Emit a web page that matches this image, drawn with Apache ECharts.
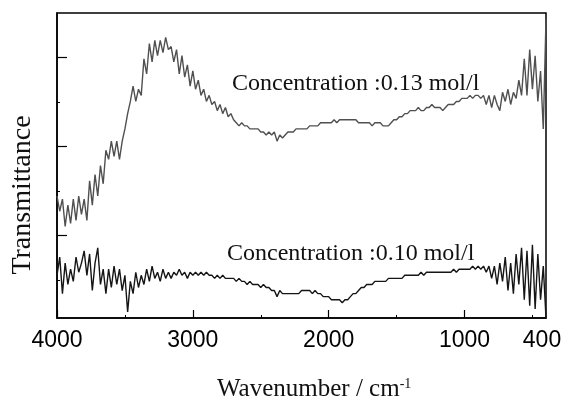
<!DOCTYPE html>
<html>
<head>
<meta charset="utf-8">
<script src="https://cdn.jsdelivr.net/npm/echarts@6/dist/echarts.min.js"></script>
<style>html,body{margin:0;padding:0;background:#fff}#c{width:562px;height:401px}</style>
</head>
<body>
<div id="c"></div>
<script>
// wavenumber grid (cm^-1), shared by both spectra
const wavenumbers = [
4000,3980,3960,3940,3920,3900,3880,3860,3840,3820,
3800,3780,3760,3740,3720,3700,3680,3660,3640,3620,
3600,3580,3560,3540,3520,3500,3480,3460,3440,3420,
3400,3380,3360,3340,3320,3300,3280,3260,3240,3220,
3200,3180,3160,3140,3120,3100,3080,3060,3040,3020,
3000,2980,2960,2940,2920,2900,2880,2860,2840,2820,
2800,2780,2760,2740,2720,2700,2680,2660,2640,2620,
2600,2580,2560,2540,2520,2500,2480,2460,2440,2420,
2400,2380,2360,2340,2320,2300,2280,2260,2240,2220,
2200,2180,2160,2140,2120,2100,2080,2060,2040,2020,
2000,1980,1960,1940,1920,1900,1880,1860,1840,1820,
1800,1780,1760,1740,1720,1700,1680,1660,1640,1620,
1600,1580,1560,1540,1520,1500,1480,1460,1440,1420,
1400,1380,1360,1340,1320,1300,1280,1260,1240,1220,
1200,1180,1160,1140,1120,1100,1080,1060,1040,1020,
1000,980,960,940,920,900,880,860,840,820,
800,780,760,740,720,700,680,660,640,620,
600,580,560,540,520,500,480,460,440,420,
400];

// Transmittance (arbitrary units), 0.13 mol/l
const trans013 = [
40,35,39,30,37,31,39,32,40,34,
39,32,45,37,47,40,50,44,55,52,
58,53,58,52,58,62,67,71,76,71,
75,73,85,80,90,84,91,86,91,87,
92,88,89,84,88,80,86,79,83,76,
81,75,78,73,75,71,73,70,71,68,
70,67,69,66,67,65,64,63,64,63,
63,62,62,62,62,61,61,60,61,60,
61,58,60,59,60,61,61,61,62,62,
62,62,62,63,63,63,63,64,64,64,
64,64,65,64,65,65,65,65,65,65,
65,64,64,64,64,64,63,64,64,64,
63,63,63,64,65,65,66,66,67,67,
68,68,68,69,68,68,69,69,70,69,
69,69,68,69,70,70,70,71,71,72,
72,72,73,72,73,73,72,73,70,73,
69,73,70,68,74,71,75,70,74,72,
78,73,85,73,88,75,86,71,81,62,
98];

// Transmittance (arbitrary units), 0.10 mol/l
const trans010 = [
14,20,8,18,11,16,12,20,15,18,
22,14,21,9,18,23,11,16,8,16,
10,17,11,16,9,14,2,12,8,15,
10,14,11,16,12,17,13,15,12,16,
13,15,13,15,14,16,14,15,13,15,
14,15,14,15,14,15,14,14,13,14,
13,14,13,13,13,13,12,13,12,12,
11,12,11,11,11,10,11,10,10,9,
9,7,9,8,8,8,8,8,8,8,
9,9,9,9,8,9,8,8,7,7,
7,6,6,6,6,5,6,6,7,8,
8,9,10,10,11,11,11,12,12,12,
12,12,13,13,13,13,13,13,14,14,
14,14,14,14,15,14,15,15,15,15,
15,15,15,15,15,15,16,15,16,16,
16,16,16,17,16,17,16,17,15,17,
13,17,11,18,12,20,9,18,8,21,
11,23,6,22,4,24,3,21,6,17,
0];

const xMajorTicks = [4000, 3000, 2000, 1000];
const xMinorTicks = [3500, 2500, 1500, 500];
const xTickLabels = [4000, 3000, 2000, 1000, 400];
const yMajorTicks = [27.2, 56.4, 85.6];
const yMinorTicks = [12.5, 41.6, 70.8];

const seriesLabels = ['Concentration :0.13 mol/l', 'Concentration :0.10 mol/l'];
const xAxisTitle = 'Wavenumber / cm';
const yAxisTitle = 'Transmittance';

const pairs = (ys) => wavenumbers.map((w, i) => [w, ys[i]]);

const chart = echarts.init(document.getElementById('c'), null, {renderer: 'canvas'});
const serif = '"Liberation Serif", "Times New Roman", serif';
const sans = '"Liberation Sans", Arial, sans-serif';

chart.setOption({
  animation: false,
  backgroundColor: '#fff',
  grid: {left: 57, top: 13, right: 16, bottom: 83, show: true, borderColor: '#000', borderWidth: 1.5,
         backgroundColor: 'transparent', containLabel: false, outerBoundsMode: 'none'},
  xAxis: [{
    type: 'value', min: 400, max: 4000, inverse: true,
    axisLine: {show: true, lineStyle: {color: '#000', width: 1.5}},
    axisTick: {show: true, inside: true, length: 8, customValues: xMajorTicks, lineStyle: {color: '#000', width: 1.2}},
    axisLabel: {show: true, customValues: xTickLabels, margin: 11, color: '#000', fontFamily: sans, fontSize: 23,
                hideOverlap: false,
                formatter: (v) => (v === 400 ? '{edge|' + v + '}' : String(v)),
                rich: {edge: {fontFamily: sans, fontSize: 23, color: '#000', padding: [0, 8, 0, 0]}}},
    splitLine: {show: false}
  }, {
    type: 'value', min: 400, max: 4000, inverse: true, position: 'bottom',
    axisLine: {show: false},
    axisTick: {show: true, inside: true, length: 3, customValues: xMinorTicks, lineStyle: {color: '#000', width: 1}},
    axisLabel: {show: false},
    splitLine: {show: false}
  }],
  yAxis: [{
    type: 'value', min: 0, max: 100,
    axisLine: {show: true, lineStyle: {color: '#000', width: 1.5}},
    axisTick: {show: true, inside: true, length: 10, customValues: yMajorTicks, lineStyle: {color: '#000', width: 1.2}},
    axisLabel: {show: false},
    splitLine: {show: false}
  }, {
    type: 'value', min: 0, max: 100, position: 'left',
    axisLine: {show: false},
    axisTick: {show: true, inside: true, length: 3, customValues: yMinorTicks, lineStyle: {color: '#000', width: 1}},
    axisLabel: {show: false},
    splitLine: {show: false}
  }],
  series: [{
    name: seriesLabels[0], type: 'line', xAxisIndex: 0, yAxisIndex: 0,
    data: pairs(trans013), showSymbol: false, symbol: 'none',
    lineStyle: {color: '#505050', width: 1.4}
  }, {
    name: seriesLabels[1], type: 'line', xAxisIndex: 0, yAxisIndex: 0,
    data: pairs(trans010), showSymbol: false, symbol: 'none',
    lineStyle: {color: '#151515', width: 1.4}
  }],
  graphic: [{
    type: 'text', left: 232, top: 72,
    style: {text: seriesLabels[0], fontFamily: serif, fontSize: 24, fill: '#111'}
  }, {
    type: 'text', left: 227, top: 242,
    style: {text: seriesLabels[1], fontFamily: serif, fontSize: 24, fill: '#111'}
  }, {
    type: 'text', left: 217, top: 377,
    style: {
      text: xAxisTitle + '{sup|-1}', fontFamily: serif, fontSize: 25, fill: '#111',
      rich: {sup: {fontFamily: serif, fontSize: 14, verticalAlign: 'top', fill: '#111'}}
    }
  }, {
    type: 'text', x: 23, y: 195, rotation: Math.PI / 2,
    style: {text: yAxisTitle, fontFamily: serif, fontSize: 28, fill: '#111', align: 'center', verticalAlign: 'middle'}
  }]
});
</script>
</body>
</html>
